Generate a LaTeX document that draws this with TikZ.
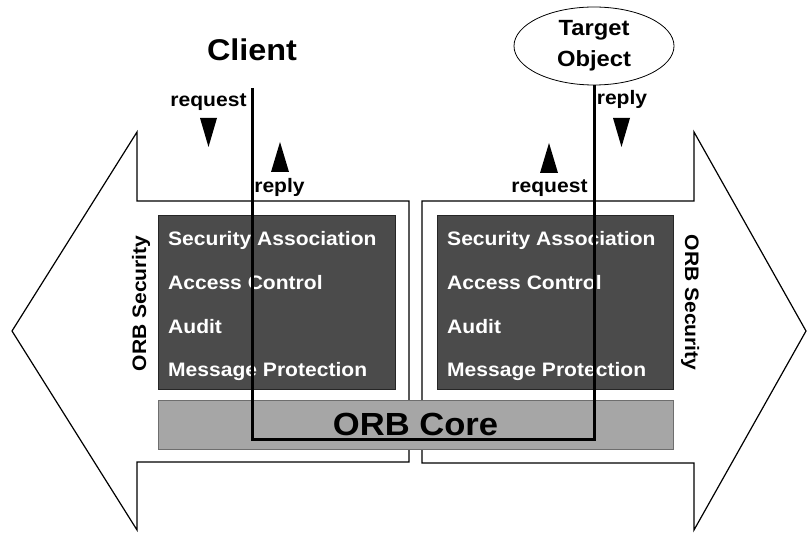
\documentclass[tikz,border=0pt]{standalone}
\usepackage{fontspec}
\newfontfamily\dgfont{Liberation Sans}[FakeStretch=1.08]
\usepackage{tikz}
\usetikzlibrary{shapes.geometric,positioning,calc}
\definecolor{cSec}{HTML}{4B4B4B}
\definecolor{cCore}{HTML}{A6A6A6}
\definecolor{cEdge}{HTML}{262626}
\definecolor{cCoreEdge}{HTML}{6E6E6E}
\tikzset{
  bigarrow/.style = {draw=black, fill=white, line width=1.2pt, line join=miter},
  secbox/.style   = {rectangle, draw=cEdge, fill=cSec, line width=0.8pt, inner sep=0pt,
                     minimum height=174pt},
  corebox/.style  = {rectangle, draw=cCoreEdge, fill=cCore, line width=0.8pt, inner sep=0pt,
                     minimum width=515pt, minimum height=49pt,
                     font=\dgfont\bfseries\fontsize{32}{36}\selectfont},
  item/.style     = {text=white, inner sep=0pt, font=\dgfont\bfseries\fontsize{19.5}{22}\selectfont},
  lbl/.style      = {inner sep=0pt, font=\dgfont\bfseries\fontsize{19.5}{22}\selectfont},
  obj/.style      = {ellipse, draw=black, line width=0.8pt, inner sep=0pt, align=center,
                     minimum width=160pt, minimum height=78pt,
                     font=\dgfont\bfseries\fontsize{22}{31}\selectfont},
  wire/.style     = {draw=black, line width=3pt, line join=miter},
}
\newcommand{\headdown}[2]{\fill (#1,#2) -- ++(-8.5,0) -- ++(8.5,29) -- ++(8.5,-29) -- cycle;}
\newcommand{\headup}[2]{\fill (#1,#2) -- ++(-9,30) -- ++(18,0) -- cycle;}

\begin{document}
\begin{tikzpicture}[x=1pt, y=-1pt]
  \useasboundingbox (0,0) rectangle (808,534);

  % the two ORB arrows
  \draw[bigarrow] (12,331) -- (137,132) -- (137,201) -- (409,201) -- (409,462)
                  -- (137,462) -- (137,530) -- cycle;
  \draw[bigarrow] (806,331) -- (694,132) -- (694,201) -- (422,201) -- (422,463)
                  -- (694,463) -- (694,530) -- cycle;

  \node[secbox, minimum width=237pt] (secL) at (276.5,302) {};
  \node[secbox, minimum width=236pt] (secR) at (555,302) {};
  \node[corebox] (core) at (415.5,424.5) {ORB Core};

  \foreach \t [count=\i] in {Security Association, Access Control, Audit, Message Protection}{
    \node[item, anchor=base west] (sL\i) at (168,{202.4+43.6*\i}) {\t};
    \node[item, anchor=base west] (sR\i) at (447,{202.4+43.6*\i}) {\t};
  }

  \node[lbl, anchor=base, rotate=90]  (orbL) at (146,303.5) {ORB Security};
  \node[lbl, anchor=base, rotate=-90] (orbR) at (685,302.5) {ORB Security};

  \node[font=\dgfont\bfseries\fontsize{30}{34}\selectfont, inner sep=0pt] (client) at (252,50) {Client};
  \node[obj] (target) at (594,46) {Target\\Object};

  % invocation path
  \coordinate (cliTop) at (252,88);
  \coordinate (low) at (0,439);
  \draw[wire] (cliTop) -- (cliTop |- low) -| (target.south);

  \node[lbl, anchor=base] (reqL) at (208.5,107) {request};
  \node[lbl, anchor=base] (repL) at (279.5,193) {reply};
  \node[lbl, anchor=base] (repR) at (622,105) {reply};
  \node[lbl, anchor=base] (reqR) at (549.5,193) {request};

  \headdown{208.5}{118}
  \headup{280}{142}
  \headdown{621.5}{118}
  \headup{549}{143}
\end{tikzpicture}
\end{document}
